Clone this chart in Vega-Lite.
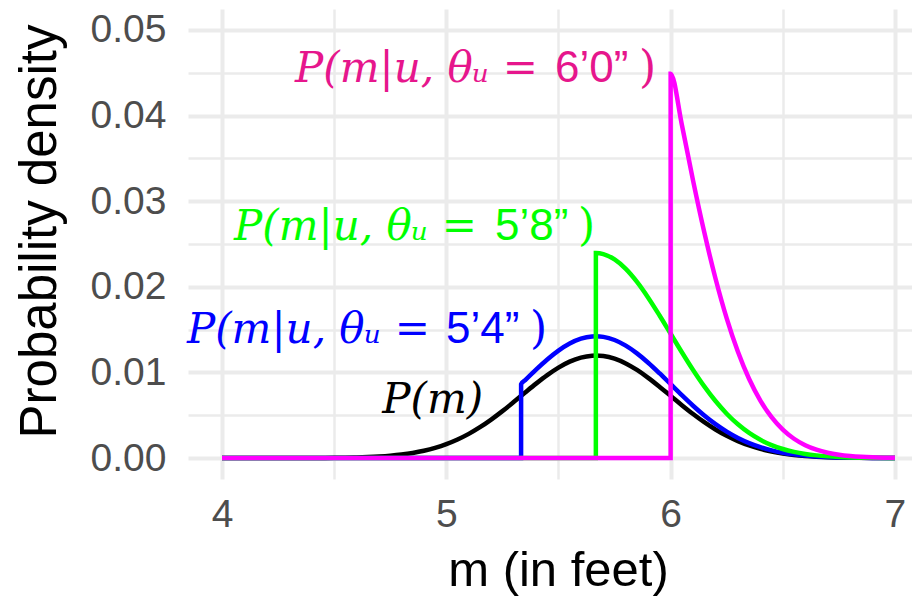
{
  "$schema": "https://vega.github.io/schema/vega-lite/v6.json",
  "width": 724,
  "height": 470,
  "autosize": {"type": "none"},
  "padding": {"left": 188, "top": 9, "right": 0, "bottom": 118},
  "background": "white",
  "config": {"view": {"stroke": null}, "font": "Liberation Sans"},
  "datasets": {
    "curves": [
      {"curve": "P(m)", "m": 4.0, "density": 0},
      {"curve": "P(m)", "m": 4.1, "density": 0.0000002},
      {"curve": "P(m)", "m": 4.2, "density": 0.0000007},
      {"curve": "P(m)", "m": 4.3, "density": 0.0000027},
      {"curve": "P(m)", "m": 4.4, "density": 0.0000088},
      {"curve": "P(m)", "m": 4.5, "density": 0.0000262},
      {"curve": "P(m)", "m": 4.55, "density": 0.0000438},
      {"curve": "P(m)", "m": 4.6, "density": 0.0000716},
      {"curve": "P(m)", "m": 4.65, "density": 0.0001144},
      {"curve": "P(m)", "m": 4.7, "density": 0.0001787},
      {"curve": "P(m)", "m": 4.75, "density": 0.0002729},
      {"curve": "P(m)", "m": 4.8, "density": 0.0004075},
      {"curve": "P(m)", "m": 4.85, "density": 0.0005954},
      {"curve": "P(m)", "m": 4.9, "density": 0.0008497},
      {"curve": "P(m)", "m": 4.95, "density": 0.0011865},
      {"curve": "P(m)", "m": 5.0, "density": 0.0016197},
      {"curve": "P(m)", "m": 5.05, "density": 0.0021629},
      {"curve": "P(m)", "m": 5.1, "density": 0.0028215},
      {"curve": "P(m)", "m": 5.15, "density": 0.0036014},
      {"curve": "P(m)", "m": 5.2, "density": 0.0044917},
      {"curve": "P(m)", "m": 5.25, "density": 0.0054793},
      {"curve": "P(m)", "m": 5.3, "density": 0.0065354},
      {"curve": "P(m)", "m": 5.35, "density": 0.0076216},
      {"curve": "P(m)", "m": 5.4, "density": 0.0086906},
      {"curve": "P(m)", "m": 5.45, "density": 0.0096889},
      {"curve": "P(m)", "m": 5.5, "density": 0.0105617},
      {"curve": "P(m)", "m": 5.55, "density": 0.011257},
      {"curve": "P(m)", "m": 5.6, "density": 0.011731},
      {"curve": "P(m)", "m": 5.65, "density": 0.011953},
      {"curve": "P(m)", "m": 5.667, "density": 0.011968},
      {"curve": "P(m)", "m": 5.7, "density": 0.0119083},
      {"curve": "P(m)", "m": 5.75, "density": 0.0115998},
      {"curve": "P(m)", "m": 5.8, "density": 0.0110479},
      {"curve": "P(m)", "m": 5.85, "density": 0.010288},
      {"curve": "P(m)", "m": 5.9, "density": 0.0093674},
      {"curve": "P(m)", "m": 5.95, "density": 0.0083395},
      {"curve": "P(m)", "m": 6.0, "density": 0.007259},
      {"curve": "P(m)", "m": 6.05, "density": 0.0061779},
      {"curve": "P(m)", "m": 6.1, "density": 0.005141},
      {"curve": "P(m)", "m": 6.15, "density": 0.0041825},
      {"curve": "P(m)", "m": 6.2, "density": 0.0033276},
      {"curve": "P(m)", "m": 6.25, "density": 0.0025883},
      {"curve": "P(m)", "m": 6.3, "density": 0.0019684},
      {"curve": "P(m)", "m": 6.35, "density": 0.0014637},
      {"curve": "P(m)", "m": 6.4, "density": 0.0010642},
      {"curve": "P(m)", "m": 6.45, "density": 0.0007565},
      {"curve": "P(m)", "m": 6.5, "density": 0.0005259},
      {"curve": "P(m)", "m": 6.55, "density": 0.0003574},
      {"curve": "P(m)", "m": 6.6, "density": 0.0002375},
      {"curve": "P(m)", "m": 6.65, "density": 0.0001543},
      {"curve": "P(m)", "m": 6.7, "density": 0.000098},
      {"curve": "P(m)", "m": 6.75, "density": 0.0000609},
      {"curve": "P(m)", "m": 6.8, "density": 0.000037},
      {"curve": "P(m)", "m": 6.9, "density": 0.0000127},
      {"curve": "P(m)", "m": 7.0, "density": 0.000004},

      {"curve": "5'4", "m": 4.0, "density": 0},
      {"curve": "5'4", "m": 5.3333, "density": 0},
      {"curve": "5'4", "m": 5.3334, "density": 0.008628},
      {"curve": "5'4", "m": 5.35, "density": 0.0090589},
      {"curve": "5'4", "m": 5.4, "density": 0.0103295},
      {"curve": "5'4", "m": 5.45, "density": 0.0115161},
      {"curve": "5'4", "m": 5.5, "density": 0.0125534},
      {"curve": "5'4", "m": 5.55, "density": 0.0133798},
      {"curve": "5'4", "m": 5.6, "density": 0.0139432},
      {"curve": "5'4", "m": 5.65, "density": 0.0142071},
      {"curve": "5'4", "m": 5.667, "density": 0.014225},
      {"curve": "5'4", "m": 5.7, "density": 0.0141541},
      {"curve": "5'4", "m": 5.75, "density": 0.0137874},
      {"curve": "5'4", "m": 5.8, "density": 0.0131314},
      {"curve": "5'4", "m": 5.85, "density": 0.0122281},
      {"curve": "5'4", "m": 5.9, "density": 0.0111339},
      {"curve": "5'4", "m": 5.95, "density": 0.0099121},
      {"curve": "5'4", "m": 6.0, "density": 0.0086279},
      {"curve": "5'4", "m": 6.05, "density": 0.0073429},
      {"curve": "5'4", "m": 6.1, "density": 0.0061105},
      {"curve": "5'4", "m": 6.15, "density": 0.0049713},
      {"curve": "5'4", "m": 6.2, "density": 0.0039551},
      {"curve": "5'4", "m": 6.25, "density": 0.0030764},
      {"curve": "5'4", "m": 6.3, "density": 0.0023396},
      {"curve": "5'4", "m": 6.35, "density": 0.0017397},
      {"curve": "5'4", "m": 6.4, "density": 0.0012649},
      {"curve": "5'4", "m": 6.45, "density": 0.0008992},
      {"curve": "5'4", "m": 6.5, "density": 0.0006251},
      {"curve": "5'4", "m": 6.55, "density": 0.0004248},
      {"curve": "5'4", "m": 6.6, "density": 0.0002823},
      {"curve": "5'4", "m": 6.65, "density": 0.0001834},
      {"curve": "5'4", "m": 6.7, "density": 0.0001165},
      {"curve": "5'4", "m": 6.75, "density": 0.0000724},
      {"curve": "5'4", "m": 6.8, "density": 0.000044},
      {"curve": "5'4", "m": 6.9, "density": 0.0000151},
      {"curve": "5'4", "m": 7.0, "density": 0.0000048},

      {"curve": "5'8", "m": 4.0, "density": 0},
      {"curve": "5'8", "m": 5.6666, "density": 0},
      {"curve": "5'8", "m": 5.6667, "density": 0.023936},
      {"curve": "5'8", "m": 5.7, "density": 0.0238166},
      {"curve": "5'8", "m": 5.75, "density": 0.0231996},
      {"curve": "5'8", "m": 5.8, "density": 0.0220958},
      {"curve": "5'8", "m": 5.85, "density": 0.020576},
      {"curve": "5'8", "m": 5.9, "density": 0.0187348},
      {"curve": "5'8", "m": 5.95, "density": 0.016679},
      {"curve": "5'8", "m": 6.0, "density": 0.014518},
      {"curve": "5'8", "m": 6.05, "density": 0.0123558},
      {"curve": "5'8", "m": 6.1, "density": 0.010282},
      {"curve": "5'8", "m": 6.15, "density": 0.008365},
      {"curve": "5'8", "m": 6.2, "density": 0.0066552},
      {"curve": "5'8", "m": 6.25, "density": 0.0051766},
      {"curve": "5'8", "m": 6.3, "density": 0.0039368},
      {"curve": "5'8", "m": 6.35, "density": 0.0029274},
      {"curve": "5'8", "m": 6.4, "density": 0.0021284},
      {"curve": "5'8", "m": 6.45, "density": 0.001513},
      {"curve": "5'8", "m": 6.5, "density": 0.0010518},
      {"curve": "5'8", "m": 6.55, "density": 0.0007148},
      {"curve": "5'8", "m": 6.6, "density": 0.000475},
      {"curve": "5'8", "m": 6.65, "density": 0.0003086},
      {"curve": "5'8", "m": 6.7, "density": 0.000196},
      {"curve": "5'8", "m": 6.75, "density": 0.0001218},
      {"curve": "5'8", "m": 6.8, "density": 0.000074},
      {"curve": "5'8", "m": 6.9, "density": 0.0000254},
      {"curve": "5'8", "m": 7.0, "density": 0.000008},

      {"curve": "6'0", "m": 4.0, "density": 0},
      {"curve": "6'0", "m": 5.9999, "density": 0},
      {"curve": "6'0", "m": 6.0, "density": 0.0449},
      {"curve": "6'0", "m": 6.05, "density": 0.038939},
      {"curve": "6'0", "m": 6.1, "density": 0.032404},
      {"curve": "6'0", "m": 6.15, "density": 0.026362},
      {"curve": "6'0", "m": 6.2, "density": 0.020974},
      {"curve": "6'0", "m": 6.25, "density": 0.016314},
      {"curve": "6'0", "m": 6.3, "density": 0.012407},
      {"curve": "6'0", "m": 6.35, "density": 0.009226},
      {"curve": "6'0", "m": 6.4, "density": 0.006708},
      {"curve": "6'0", "m": 6.45, "density": 0.004768},
      {"curve": "6'0", "m": 6.5, "density": 0.003315},
      {"curve": "6'0", "m": 6.55, "density": 0.002253},
      {"curve": "6'0", "m": 6.6, "density": 0.001497},
      {"curve": "6'0", "m": 6.65, "density": 0.000973},
      {"curve": "6'0", "m": 6.7, "density": 0.000618},
      {"curve": "6'0", "m": 6.75, "density": 0.000384},
      {"curve": "6'0", "m": 6.8, "density": 0.000233},
      {"curve": "6'0", "m": 6.85, "density": 0.000138},
      {"curve": "6'0", "m": 6.9, "density": 0.00008},
      {"curve": "6'0", "m": 6.95, "density": 0.0000454},
      {"curve": "6'0", "m": 7.0, "density": 0.0000252}
    ],
    "labels": [
      {"curve": "P(m)", "part": "math", "text": "P(m)", "m": 5.164, "d": 0.00526},
      {"curve": "5'4", "part": "math", "text": "P(m|u, θᵤ =", "m": 4.927, "d": 0.01343},
      {"curve": "5'4", "part": "num", "text": "5’4”", "m": 4.999, "d": 0.01343},
      {"curve": "5'4", "part": "paren", "text": ")", "m": 5.373, "d": 0.01343},
      {"curve": "5'8", "part": "math", "text": "P(m|u, θᵤ =", "m": 5.137, "d": 0.02547},
      {"curve": "5'8", "part": "num", "text": "5’8”", "m": 5.217, "d": 0.02547},
      {"curve": "5'8", "part": "paren", "text": ")", "m": 5.587, "d": 0.02547},
      {"curve": "6'0", "part": "math", "text": "P(m|u, θᵤ =", "m": 5.409, "d": 0.0439},
      {"curve": "6'0", "part": "num", "text": "6’0”", "m": 5.485, "d": 0.0439},
      {"curve": "6'0", "part": "paren", "text": ")", "m": 5.859, "d": 0.0439}
    ]
  },
  "layer": [
    {
      "data": {"name": "curves"},
      "mark": {"type": "line", "strokeWidth": 4.5, "interpolate": "monotone", "clip": true},
      "encoding": {
        "x": {
          "field": "m", "type": "quantitative",
          "scale": {"domain": [3.8484, 7.076], "nice": false, "zero": false},
          "axis": {
            "title": "m (in feet)",
            "values": [4, 4.5, 5, 5.5, 6, 6.5, 7],
            "labelExpr": "datum.value % 1 === 0 ? format(datum.value, 'd') : ''",
            "domain": false, "ticks": false,
            "grid": true, "gridColor": "#EBEBEB",
            "gridWidth": {"condition": {"test": "datum.value % 1 === 0", "value": 4}, "value": 2.5},
            "labelFont": "Liberation Sans", "labelFontSize": 39, "labelColor": "#4D4D4D", "labelPadding": 16,
            "titleFont": "Liberation Sans", "titleFontSize": 49, "titleFontWeight": "normal", "titleColor": "#000000", "titlePadding": 12,
            "titleX": 370
          }
        },
        "y": {
          "field": "density", "type": "quantitative",
          "scale": {"domain": [-0.00245, 0.05245], "nice": false, "zero": false},
          "axis": {
            "title": "Probability density",
            "values": [0, 0.005, 0.01, 0.015, 0.02, 0.025, 0.03, 0.035, 0.04, 0.045, 0.05],
            "labelExpr": "abs(datum.value * 100 - round(datum.value * 100)) < 0.001 ? format(datum.value, '.2f') : ''",
            "domain": false, "ticks": false,
            "grid": true, "gridColor": "#EBEBEB",
            "gridWidth": {"condition": {"test": "abs(datum.value * 100 - round(datum.value * 100)) < 0.001", "value": 4}, "value": 2.5},
            "labelFont": "Liberation Sans", "labelFontSize": 39, "labelColor": "#4D4D4D", "labelPadding": 22,
            "titleFont": "Liberation Sans", "titleFontSize": 51, "titleFontWeight": "normal", "titleColor": "#000000", "titlePadding": 24,
            "titleY": 222
          }
        },
        "color": {
          "field": "curve", "type": "nominal",
          "scale": {"domain": ["P(m)", "5'4", "5'8", "6'0"], "range": ["#000000", "#0000FF", "#00FF00", "#FF00FF"]},
          "legend": null
        }
      }
    },
    {
      "data": {"name": "labels"},
      "transform": [{"filter": "datum.part === 'math'"}],
      "mark": {"type": "text", "font": "DejaVu Serif", "fontStyle": "italic", "fontSize": 42, "align": "right", "baseline": "alphabetic"},
      "encoding": {
        "x": {"field": "m", "type": "quantitative"},
        "y": {"field": "d", "type": "quantitative"},
        "text": {"field": "text"},
        "color": {
          "field": "curve", "type": "nominal",
          "scale": {"domain": ["P(m)", "5'4", "5'8", "6'0"], "range": ["#000000", "#0000FF", "#00FF00", "#E6168C"]},
          "legend": null
        }
      }
    },
    {
      "data": {"name": "labels"},
      "transform": [{"filter": "datum.part === 'num'"}],
      "mark": {"type": "text", "font": "Liberation Sans", "fontSize": 44, "align": "left", "baseline": "alphabetic"},
      "encoding": {
        "x": {"field": "m", "type": "quantitative"},
        "y": {"field": "d", "type": "quantitative"},
        "text": {"field": "text"},
        "color": {
          "field": "curve", "type": "nominal",
          "scale": {"domain": ["P(m)", "5'4", "5'8", "6'0"], "range": ["#000000", "#0000FF", "#00FF00", "#E6168C"]},
          "legend": null
        }
      }
    },
    {
      "data": {"name": "labels"},
      "transform": [{"filter": "datum.part === 'paren'"}],
      "mark": {"type": "text", "font": "DejaVu Serif", "fontSize": 44, "align": "left", "baseline": "alphabetic"},
      "encoding": {
        "x": {"field": "m", "type": "quantitative"},
        "y": {"field": "d", "type": "quantitative"},
        "text": {"field": "text"},
        "color": {
          "field": "curve", "type": "nominal",
          "scale": {"domain": ["P(m)", "5'4", "5'8", "6'0"], "range": ["#000000", "#0000FF", "#00FF00", "#E6168C"]},
          "legend": null
        }
      }
    }
  ],
  "resolve": {"scale": {"color": "independent"}}
}
